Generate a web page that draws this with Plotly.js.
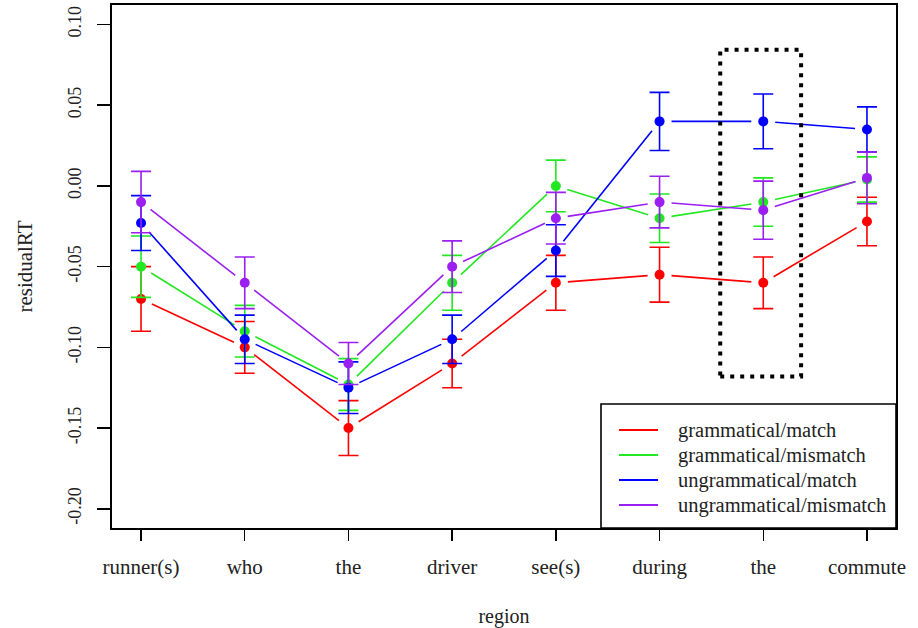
<!DOCTYPE html>
<html>
<head>
<meta charset="utf-8">
<script src="https://cdn.plot.ly/plotly-3.0.1.min.js"></script>
<style>html,body{margin:0;padding:0;background:#fff;}#chart{width:918px;height:628px;}</style>
</head>
<body>
<div id="chart"></div>
<script>
// ---- data ----
const regions = ["runner(s)", "who", "the", "driver", "see(s)", "during", "the", "commute"];
const regionPos = [1, 2, 3, 4, 5, 6, 7, 8];
const seriesNames = ["grammatical/match", "grammatical/mismatch", "ungrammatical/match", "ungrammatical/mismatch"];
const gramMatch      = [-0.070, -0.100, -0.150, -0.110, -0.060, -0.055, -0.060, -0.022];
const gramMatchSE    = [ 0.020,  0.016,  0.017,  0.015,  0.017,  0.017,  0.016,  0.015];
const gramMismatch   = [-0.050, -0.090, -0.123, -0.060,  0.000, -0.020, -0.010,  0.004];
const gramMismatchSE = [ 0.019,  0.016,  0.016,  0.017,  0.016,  0.015,  0.015,  0.014];
const ungMatch       = [-0.023, -0.095, -0.125, -0.095, -0.040,  0.040,  0.040,  0.035];
const ungMatchSE     = [ 0.017,  0.015,  0.016,  0.015,  0.016,  0.018,  0.017,  0.014];
const ungMismatch    = [-0.010, -0.060, -0.110, -0.050, -0.020, -0.010, -0.015,  0.005];
const ungMismatchSE  = [ 0.019,  0.016,  0.013,  0.016,  0.016,  0.016,  0.018,  0.016];
const yTickVals = [-0.20, -0.15, -0.10, -0.05, 0.00, 0.05, 0.10];
const yTickText = ["-0.20", "-0.15", "-0.10", "-0.05", "0.00", "0.05", "0.10"];

// ---- style ----
const colors = ["#ff0000", "#22e822", "#0000ff", "#9a1ff0"];
const FONT = "Liberation Serif, Times New Roman, serif";
const TXT = "#222";
const margin = {l: 112, r: 22, t: 5, b: 100};
const W = 918, H = 628;
const xRange = [0.72, 8.28];
const yRange = [-0.2119, 0.1121];
const plotW = W - margin.l - margin.r, plotH = H - margin.t - margin.b;
const kx = plotW / (xRange[1] - xRange[0]);
const ky = plotH / (yRange[1] - yRange[0]);
const GAP = 12; // px gap around points (R type="b")

function gappedLine(xs, ys) {
  const gx = [], gy = [];
  for (let i = 0; i < xs.length - 1; i++) {
    const dx = (xs[i + 1] - xs[i]) * kx, dy = (ys[i + 1] - ys[i]) * ky;
    const len = Math.sqrt(dx * dx + dy * dy);
    if (len <= 2 * GAP) continue;
    const f = GAP / len;
    gx.push(xs[i] + f * (xs[i + 1] - xs[i]), xs[i + 1] - f * (xs[i + 1] - xs[i]), null);
    gy.push(ys[i] + f * (ys[i + 1] - ys[i]), ys[i + 1] - f * (ys[i + 1] - ys[i]), null);
  }
  return {gx, gy};
}

const allY = [gramMatch, gramMismatch, ungMatch, ungMismatch];
const allE = [gramMatchSE, gramMismatchSE, ungMatchSE, ungMismatchSE];
const traces = [];
allY.forEach((ys, i) => {
  const g = gappedLine(regionPos, ys);
  traces.push({
    x: g.gx, y: g.gy, type: "scatter", mode: "lines", name: seriesNames[i], showlegend: false,
    line: {color: colors[i], width: 1.6}, connectgaps: false, hoverinfo: "skip"
  });
});
allY.forEach((ys, i) => {
  traces.push({
    x: regionPos, y: ys, type: "scatter", mode: "markers", showlegend: false, name: seriesNames[i],
    marker: {color: colors[i], size: 10},
    error_y: {type: "data", array: allE[i], visible: true, color: colors[i], thickness: 1.6, width: 10}
  });
});

// ---- legend box (paper coords, pixel-based) ----
const px2x = p => (p - margin.l) / plotW;
const px2y = p => (H - margin.b - p) / plotH;
const legBox = {left: 601, top: 404, right: 896, bottom: 528};
const legLine = {x0: 619, x1: 658, text: 676, row0: 430, rowStep: 25};
const shapes = [{
  type: "rect", xref: "x", yref: "y", x0: 6.585, x1: 7.365, y0: -0.118, y1: 0.0843,
  line: {color: "#000", width: 4, dash: "4px,6px"}, fillcolor: "rgba(0,0,0,0)", layer: "above"
}, {
  type: "rect", xref: "paper", yref: "paper",
  x0: px2x(legBox.left), x1: px2x(legBox.right), y0: px2y(legBox.bottom), y1: px2y(legBox.top),
  line: {color: "#000", width: 1.6}, fillcolor: "#fff", layer: "above"
}];
const annotations = [];
seriesNames.forEach((nm, i) => {
  const yy = px2y(legLine.row0 + i * legLine.rowStep);
  shapes.push({
    type: "line", xref: "paper", yref: "paper", x0: px2x(legLine.x0), x1: px2x(legLine.x1), y0: yy, y1: yy,
    line: {color: colors[i], width: 1.8}, layer: "above"
  });
  annotations.push({
    xref: "paper", yref: "paper", x: px2x(legLine.text), y: yy, xanchor: "left", yanchor: "middle",
    text: nm, showarrow: false, font: {family: FONT, size: 20.5, color: TXT}
  });
});

const layout = {
  width: W, height: H, margin: margin,
  paper_bgcolor: "#fff", plot_bgcolor: "#fff",
  font: {family: FONT, color: TXT, size: 19},
  showlegend: false,
  xaxis: {
    range: xRange, tickmode: "array", tickvals: regionPos, ticktext: regions,
    showgrid: false, zeroline: false, showline: true, mirror: true,
    linecolor: "#000", linewidth: 2, ticks: "outside", ticklen: 11, tickwidth: 1.5, tickcolor: "#000",
    ticklabelstandoff: 8,
    tickfont: {family: FONT, size: 21, color: TXT},
    title: {text: "region", font: {family: FONT, size: 20, color: TXT}, standoff: 33}
  },
  yaxis: {
    range: yRange, tickmode: "array", tickvals: yTickVals, ticktext: yTickText,
    showgrid: false, zeroline: false, showline: true, mirror: true,
    linecolor: "#000", linewidth: 2, ticks: "outside", ticklen: 13, tickwidth: 1.5, tickcolor: "#000",
    ticklabelstandoff: 9,
    tickangle: -90, tickfont: {family: FONT, size: 18, color: TXT},
    title: {text: "residualRT", font: {family: FONT, size: 21, color: TXT}, standoff: 26}
  },
  shapes: shapes,
  annotations: annotations
};

Plotly.newPlot("chart", traces, layout, {displayModeBar: false, staticPlot: true});
</script>
</body>
</html>
